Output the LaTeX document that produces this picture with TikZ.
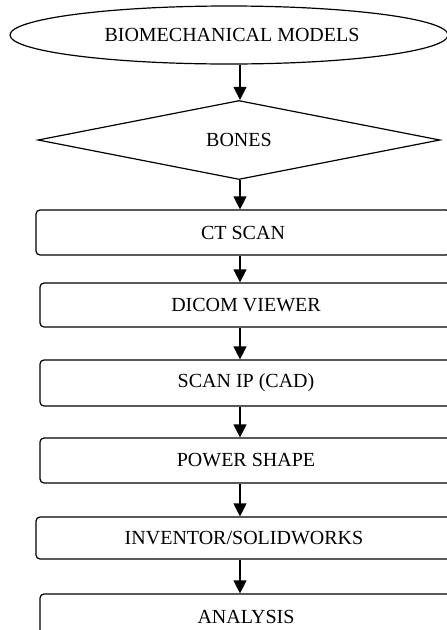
\documentclass[tikz,border=0pt]{standalone}
\usepackage{fontspec}
\setmainfont{Liberation Serif}
\usetikzlibrary{shapes.geometric,arrows.meta}
\begin{document}
\begin{tikzpicture}[x=1pt,y=-1pt,
  every node/.style={font=\fontsize{20}{24}\selectfont, inner sep=0pt},
  boxstyle/.style={draw, line width=1.2pt, rounded corners=4pt, rectangle},
  arr/.style={line width=1.2pt, -{Triangle[length=13pt,width=13pt]}},
  ]
\useasboundingbox (0,0) rectangle (447,630);
\clip (0,0) rectangle (447,630);
\fill[white] (0,0) rectangle (447,630);
\node[draw, line width=1.2pt, ellipse, minimum width=438pt, minimum height=58pt] (ell) at (229,35) {};
\node at (232,35) (elltext) {BIOMECHANICAL MODELS};
\node[draw, line width=1.2pt, diamond, minimum width=402pt, minimum height=77pt] (bones) at (239,140) {BONES};
\coordinate (col) at (240,0);
\node[boxstyle, minimum width=414pt, minimum height=45pt] (ct) at (243,232.5) {CT SCAN};
\node[boxstyle, minimum width=412pt, minimum height=44pt] (dicom) at (246,305) {DICOM VIEWER};
\node[boxstyle, minimum width=412pt, minimum height=46pt] (scan) at (246,383) {SCAN IP (CAD)};
\node[boxstyle, minimum width=412pt, minimum height=45pt] (power) at (246,460.5) {POWER SHAPE};
\node[boxstyle, minimum width=416pt, minimum height=42pt] (inv) at (244,538) {INVENTOR/SOLIDWORKS};
\node[boxstyle, minimum width=412pt, minimum height=46pt] (ana) at (246,617) {ANALYSIS};
\draw[arr] (col |- ell.south) -- (col |- bones.north);
\draw[arr] (col |- bones.south) -- (col |- ct.north);
\draw[arr] (col |- ct.south) -- (col |- dicom.north);
\draw[arr] (col |- dicom.south) -- (col |- scan.north);
\draw[arr] (col |- scan.south) -- (col |- power.north);
\draw[arr] (col |- power.south) -- (col |- inv.north);
\draw[arr] (col |- inv.south) -- (col |- ana.north);
\end{tikzpicture}
\end{document}
